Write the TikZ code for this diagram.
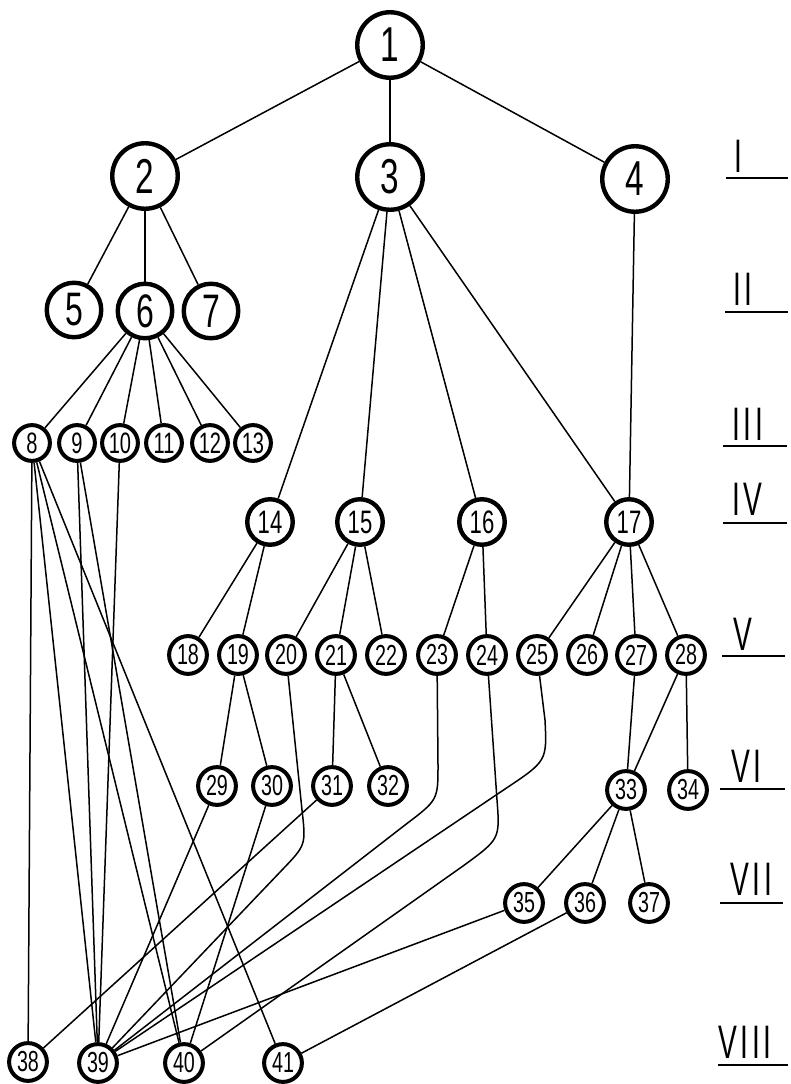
\documentclass[tikz,border=0pt]{standalone}
\usepackage{fontspec}
\setmainfont{Liberation Sans}
\newfontfamily\numfont[FakeStretch=0.68]{Liberation Sans}
\newfontfamily\romfont[FakeStretch=0.6,LetterSpace=8]{Liberation Sans}
\begin{document}
\begin{tikzpicture}[x=1pt,y=-1pt,
  nd/.style={circle,draw,line width=4.4pt,inner sep=0pt},
  lvA/.style={nd,minimum size=65.5pt,font=\numfont\fontsize{49pt}{49pt}\selectfont},
  lvB/.style={nd,minimum size=54.5pt,font=\numfont\fontsize{47pt}{47pt}\selectfont},
  lvC/.style={nd,minimum size=35.8pt,line width=4pt,font=\numfont\fontsize{29.5pt}{29.5pt}\selectfont},
  lvD/.style={nd,minimum size=45.5pt,font=\numfont\fontsize{32.5pt}{32.5pt}\selectfont},
  lvE/.style={nd,minimum size=37.8pt,line width=4pt,font=\numfont\fontsize{29pt}{29pt}\selectfont},
  edge/.style={line width=1.5pt},
  lab/.style={anchor=base west,inner sep=0pt,font=\romfont\fontsize{47pt}{47pt}\selectfont},
  uline/.style={line width=1.8pt}
]
\useasboundingbox (0,0) rectangle (790,1084);
% level nodes
\node[lvA] (n1) at (390,45) {1};
\node[lvA] (n2) at (145,176) {2};
\node[lvA] (n3) at (390,177) {3};
\node[lvA] (n4) at (635,179) {4};
\node[lvB] (n5) at (74,310) {5};
\node[lvB] (n6) at (145,311) {6};
\node[lvB] (n7) at (211,311) {7};
\node[lvC] (n8) at (32,443) {8};
\node[lvC] (n9) at (77,443) {9};
\node[lvC] (n10) at (120,443) {10};
\node[lvC] (n11) at (164,443) {11};
\node[lvC] (n12) at (210,443) {12};
\node[lvC] (n13) at (253,443) {13};
\node[lvD] (n14) at (270,522) {14};
\node[lvD] (n15) at (360,522) {15};
\node[lvD] (n16) at (482,522) {16};
\node[lvD] (n17) at (629,522) {17};
\node[lvE] (n18) at (188,655) {18};
\node[lvE] (n19) at (238,655) {19};
\node[lvE] (n20) at (286,655) {20};
\node[lvE] (n21) at (336,655) {21};
\node[lvE] (n22) at (386,655) {22};
\node[lvE] (n23) at (437,655) {23};
\node[lvE] (n24) at (487,655) {24};
\node[lvE] (n25) at (537,655) {25};
\node[lvE] (n26) at (587,655) {26};
\node[lvE] (n27) at (636,655) {27};
\node[lvE] (n28) at (686,655) {28};
\node[lvE] (n29) at (217,786) {29};
\node[lvE] (n30) at (272,786) {30};
\node[lvE] (n31) at (332,786) {31};
\node[lvE] (n32) at (388,786) {32};
\node[lvE] (n33) at (626,790) {33};
\node[lvE] (n34) at (688,790) {34};
\node[lvE] (n35) at (524,903) {35};
\node[lvE] (n36) at (585,903) {36};
\node[lvE] (n37) at (649,903) {37};
\node[lvE] (n38) at (28,1062) {38};
\node[lvE] (n39) at (98,1063) {39};
\node[lvE] (n40) at (184,1063) {40};
\node[lvE] (n41) at (283,1063) {41};
% tree edges
\foreach \a/\b in {1/2,1/3,1/4,2/5,2/6,2/7,6/8,6/9,6/10,6/11,6/12,6/13,
  3/14,3/15,3/16,3/17,4/17,14/18,14/19,15/20,15/21,15/22,16/23,16/24,
  17/25,17/26,17/27,17/28,19/29,19/30,21/31,21/32,27/33,28/33,28/34,
  33/35,33/36,33/37,
  8/38,8/39,8/40,8/41,9/39,9/40,10/39,29/39,30/40,31/38,35/39,36/41}
  \draw[edge] (n\a) -- (n\b);
% bent connectors
\coordinate (a20) at (302,810); \coordinate (b20) at (306,845); \coordinate (c20) at (282,870);
\draw[edge] (n20) -- (a20) .. controls (b20) .. (c20) -- (n39);
\coordinate (a23) at (438,765); \coordinate (b23) at (438,800); \coordinate (c23) at (405,825);
\draw[edge] (n23) -- (a23) .. controls (b23) .. (c23) -- (n39);
\coordinate (a24) at (497,800); \coordinate (b24) at (500,839); \coordinate (c24) at (463,866);
\draw[edge] (n24) -- (a24) .. controls (b24) .. (c24) -- (n40);
\coordinate (a25) at (545,720); \coordinate (b25) at (547,761); \coordinate (c25) at (505,789);
\draw[edge] (n25) -- (a25) .. controls (b25) .. (c25) -- (n39);
% level labels
\node[lab] (lI) at (734,172) {I};
\draw[uline] (726,178) -- (788,178);
\node[lab] (lII) at (733,305) {II};
\draw[uline] (725,312) -- (788,312);
\node[lab] (lIII) at (732,440) {III};
\draw[uline] (723,446) -- (787,446);
\node[lab] (lIV) at (732,515) {IV};
\draw[uline] (723,523) -- (787,523);
\node[lab] (lV) at (733,650) {V};
\draw[uline] (722,656) -- (785,656);
\node[lab] (lVI) at (731,782) {VI};
\draw[uline] (720,789) -- (785,789);
\node[lab] (lVII) at (730,895) {VII};
\draw[uline] (720,903) -- (783,903);
\node[lab] (lVIII) at (718,1058) {VIII};
\draw[uline] (718,1065) -- (788,1065);
\end{tikzpicture}
\end{document}
